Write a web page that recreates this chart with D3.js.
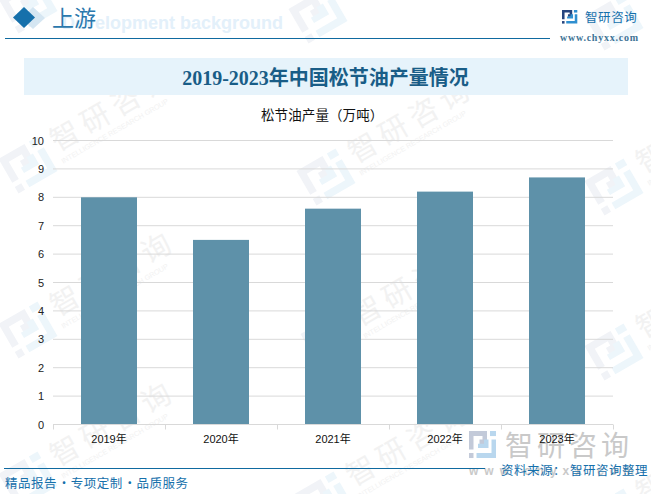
<!DOCTYPE html>
<html>
<head>
<meta charset="utf-8">
<script src="https://cdn.jsdelivr.net/npm/d3@7"></script>
<style>
  html, body { margin: 0; padding: 0; background: #fff; }
  svg { display: block; }
</style>
</head>
<body>
<svg id="chart" width="651" height="494" font-family="Noto Sans CJK SC"></svg>
<script>
// chart data
const years = ["2019年", "2020年", "2021年", "2022年", "2023年"];
const output = [8.0, 6.5, 7.6, 8.2, 8.7];
const yTicks = [0, 1, 2, 3, 4, 5, 6, 7, 8, 9, 10];

const svg = d3.select("#chart");

// same logo is used for the watermark, the header and the footer
function drawLogo(g, colorA, colorB) {
  const darkParts = ["M0 0H12V8H7V5H9V3H3V11H0Z", "M0 13H3V16H0Z"];
  const lightParts = ["M14 0H18V3H14Z", "M15 5H18V16H5V13H15Z", "M6 10H13V5H10V7.500H6Z"];
  darkParts.forEach(d => g.append("path").attr("d", d).attr("fill", colorA));
  lightParts.forEach(d => g.append("path").attr("d", d).attr("fill", colorB));
}

// watermark tiles, each one anchored on its first character
const tiles = [
  [65, 135], [363, 147], [651, 157],
  [65, 300], [367, 310], [651, 322],
  [65, 450], [361, 470], [651, 487]
];
// the top row only shows its logo, the text is above the page
const topLogos = [[28, 5], [318, 15], [614, 22]];

const wm = svg.append("g");
function wmLogo(cx, cy) {
  const g = wm.append("g").attr("transform", `translate(${cx},${cy}) rotate(-30) scale(2.5) translate(-9,-8)`);
  drawLogo(g, "#f1f3f7", "#edf6fb");
}
topLogos.forEach(p => wmLogo(p[0], p[1]));
tiles.forEach(t => {
  wmLogo(t[0] - 37, t[1] + 30);
  const g = wm.append("g").attr("transform", `translate(${t[0]},${t[1]}) rotate(-30)`);
  g.append("text").attr("x", -15).attr("y", 11).attr("font-size", 29)
    .attr("letter-spacing", 6).attr("fill", "#f2f2f2").text("智研咨询");
  g.append("text").attr("x", -16).attr("y", 24).attr("font-size", 7.2)
    .attr("font-family", "Liberation Sans").attr("fill", "#f2f2f2")
    .text("INTELLIGENCE RESEARCH GROUP");
});

// header
svg.append("text").attr("x", 62).attr("y", 29).attr("font-size", 18)
  .attr("font-weight", 700).attr("font-family", "Liberation Sans")
  .attr("fill", "#e3f0fa").text("Development background");
svg.append("path").attr("d", "M33 7L45 18L33 29L21 18Z").attr("fill", "#d5e6f2");
svg.append("path").attr("d", "M24 7L35 17.500L24 28L13 17.500Z").attr("fill", "#1670ab");
svg.append("text").attr("x", 52).attr("y", 26).attr("font-size", 22)
  .attr("fill", "#2a78ad").text("上游");
svg.append("line").attr("x1", 5).attr("x2", 550).attr("y1", 38.5).attr("y2", 38.5)
  .attr("stroke", "#0f6aa0").attr("stroke-width", 1.2);
drawLogo(svg.append("g").attr("transform", "translate(562,10) scale(0.85)"), "#27457f", "#2f8fd0");
svg.append("text").attr("x", 585).attr("y", 22).attr("font-size", 12.5)
  .attr("letter-spacing", 0.6).attr("fill", "#1670ab").text("智研咨询");
svg.append("text").attr("x", 560).attr("y", 41).attr("font-size", 10)
  .attr("font-family", "Liberation Serif").attr("font-weight", 700)
  .attr("textLength", 78).attr("lengthAdjust", "spacing")
  .attr("fill", "#3d7396").text("www.chyxx.com");

// title band
svg.append("rect").attr("x", 24).attr("y", 58).attr("width", 604).attr("height", 37).attr("fill", "#e6f3fb");
svg.append("text").attr("x", 325.5).attr("y", 85).attr("text-anchor", "middle")
  .attr("font-size", 20).attr("font-weight", 700)
  .attr("font-family", "Liberation Serif, Noto Sans CJK SC")
  .attr("fill", "#195d87").text("2019-2023年中国松节油产量情况");

svg.append("text").attr("x", 261).attr("y", 120)
  .attr("font-size", 13.5).attr("letter-spacing", 0.1).attr("fill", "#111").text("松节油产量（万吨）");

// scales and axes
const x = d3.scaleBand().domain(years).range([53, 613]).padding(0);
const y = d3.scaleLinear().domain([0, 10]).range([424.5, 140.5]);

svg.append("g").selectAll("line").data(yTicks.filter(d => d > 0)).join("line")
  .attr("x1", 53).attr("x2", 613)
  .attr("y1", d => y(d)).attr("y2", d => y(d))
  .attr("stroke", "#d9d9d9").attr("stroke-width", 1);

svg.append("g").selectAll("rect").data(output).join("rect")
  .attr("x", (d, i) => x(years[i]) + x.bandwidth() / 4)
  .attr("width", x.bandwidth() / 2)
  .attr("y", d => y(d))
  .attr("height", d => y(0) - y(d))
  .attr("fill", "#5e91a9");

const yAxis = d3.axisLeft(y).tickValues(yTicks).tickSize(0).tickPadding(9);
const yG = svg.append("g").attr("transform", "translate(53,0)").call(yAxis);
yG.select(".domain").remove();
yG.selectAll("text").attr("font-family", "Liberation Sans").attr("font-size", 11).attr("fill", "#222");

const xTicks = years.map(d => x(d)).concat([x.range()[1]]);
svg.append("line").attr("x1", 53).attr("x2", 613).attr("y1", y(0)).attr("y2", y(0))
  .attr("stroke", "#d9d9d9").attr("stroke-width", 1);
svg.append("g").selectAll("line").data(xTicks).join("line")
  .attr("x1", d => d + 0.5).attr("x2", d => d + 0.5)
  .attr("y1", y(0)).attr("y2", y(0) + 5)
  .attr("stroke", "#d9d9d9");

// big footer watermark
const big = svg.append("g");
drawLogo(big.append("g").attr("transform", "translate(469,431) scale(1.5,1.69)"), "#c3cad9", "#b9d7ee");
big.append("text").attr("x", 505).attr("y", 456).attr("font-size", 28)
  .attr("letter-spacing", 4).attr("fill", "#c9c9c9").text("智研咨询");
big.append("text").attr("x", 469).attr("y", 475).attr("font-size", 12)
  .attr("font-family", "Liberation Sans").attr("font-weight", 700)
  .attr("textLength", 165).attr("lengthAdjust", "spacing")
  .attr("fill", "#c9c9c9").text("www.chyxx.com");

// year labels stay on top of the big watermark
const xAxis = d3.axisBottom(x).tickSize(0).tickPadding(11);
const xG = svg.append("g").attr("transform", `translate(0,${y(0)})`).call(xAxis);
xG.select(".domain").remove();
xG.selectAll("text").attr("font-family", "Liberation Sans, Noto Sans CJK SC").attr("font-size", 11).attr("fill", "#111");

// footer
svg.append("line").attr("x1", 4).attr("x2", 485).attr("y1", 468.5).attr("y2", 468.5)
  .attr("stroke", "#0f6aa0").attr("stroke-width", 1.2);
svg.append("text").attr("x", 5).attr("y", 488).attr("font-size", 12.5)
  .attr("letter-spacing", 0.5).attr("word-spacing", -2.5).attr("fill", "#1670ab").text("精品报告 ·专项定制 ·品质服务");
const source = svg.append("text").attr("x", 501).attr("y", 475).attr("font-size", 12.5)
  .attr("letter-spacing", 0.5).attr("fill", "#1670ab");
source.append("tspan").text("资料来源：");
source.append("tspan").attr("dx", 4).text("智研咨询整理");
</script>
</body>
</html>
